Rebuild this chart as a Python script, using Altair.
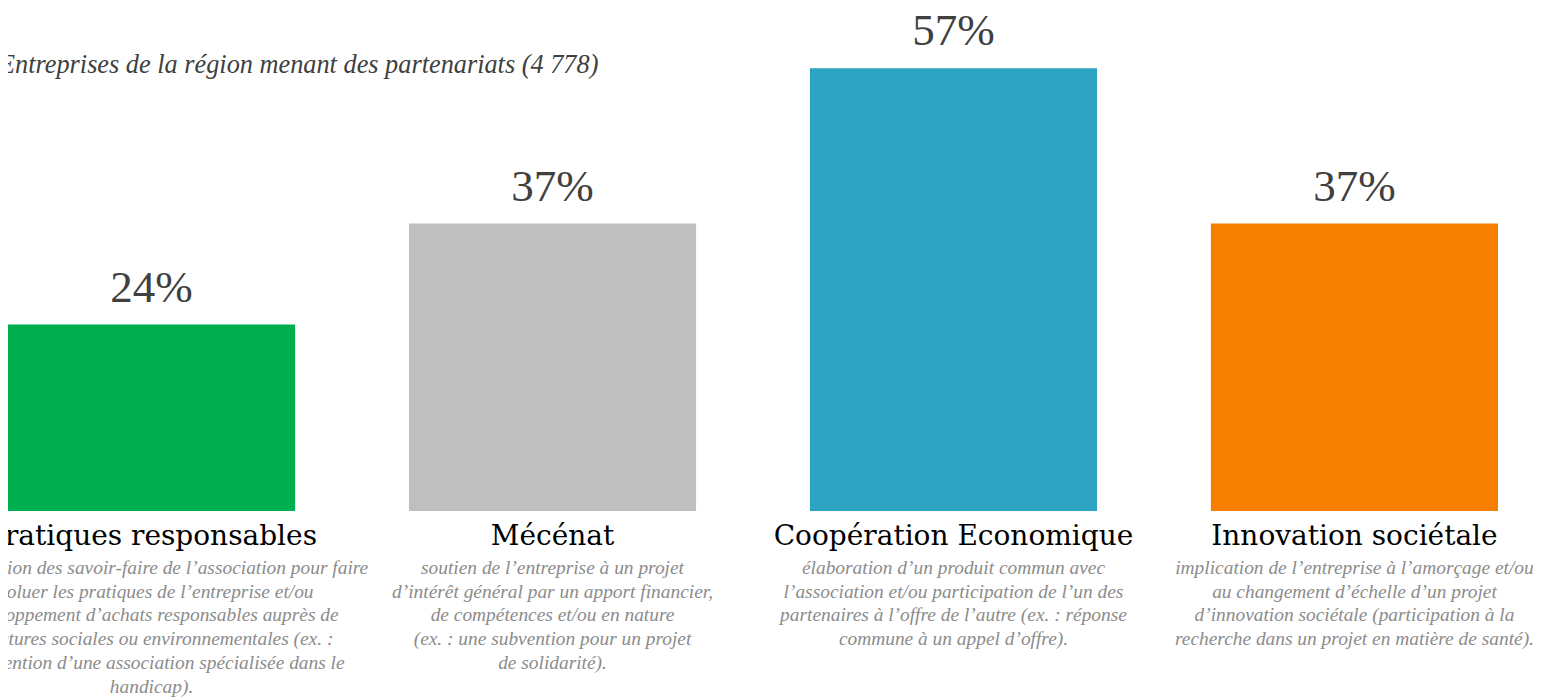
import altair as alt
import pandas as pd

categories = ["Pratiques responsables", "Mécénat", "Coopération Economique", "Innovation sociétale"]
values = [24, 37, 57, 37]
value_labels = ["24%", "37%", "57%", "37%"]
colors = ["#00B050", "#BFBFBF", "#2CA3C1", "#F77F00"]
descriptions = [
    "mobilisation des savoir-faire de l’association pour faire\n"
    "évoluer les pratiques de l’entreprise et/ou\n"
    "développement d’achats responsables auprès de\n"
    "structures sociales ou environnementales (ex. :\n"
    "intervention d’une association spécialisée dans le\n"
    "handicap).",
    "soutien de l’entreprise à un projet\n"
    "d’intérêt général par un apport financier,\n"
    "de compétences et/ou en nature\n"
    "(ex. : une subvention pour un projet\n"
    "de solidarité).",
    "élaboration d’un produit commun avec\n"
    "l’association et/ou participation de l’un des\n"
    "partenaires à l’offre de l’autre (ex. : réponse\n"
    "commune à un appel d’offre).",
    "implication de l’entreprise à l’amorçage et/ou\n"
    "au changement d’échelle d’un projet\n"
    "d’innovation sociétale (participation à la\n"
    "recherche dans un projet en matière de santé).",
]
title_text = "Entreprises de la région menant des partenariats (4 778)"

SERIF = "Liberation Serif"
WIDE_SERIF = "DejaVu Serif"

df = pd.DataFrame({
    "cat": categories,
    "val": values,
    "lab": value_labels,
    "desc": descriptions,
})

x = alt.X("cat:N", sort=categories, axis=None,
          scale=alt.Scale(domain=categories, paddingInner=0.284, paddingOuter=0))
y = alt.Y("val:Q", axis=None, scale=alt.Scale(domain=[0, 64.1]))
color = alt.Color("cat:N", scale=alt.Scale(domain=categories, range=colors), legend=None)

base = alt.Chart(df)

bars = base.mark_bar().encode(x=x, y=y, color=color)

pct = base.mark_text(font=SERIF, fontSize=45, color="#404040", baseline="alphabetic",
                     align="center", dy=-23).encode(x=x, y=y, text="lab:N")

cat_lab = base.mark_text(font=WIDE_SERIF, fontSize=28, color="#000000", baseline="alphabetic",
                         align="center").encode(x=x, y=alt.value(532), text="cat:N")

desc = base.mark_text(font=SERIF, fontSize=19.4, fontStyle="italic", color="#8C8C8C",
                      baseline="alphabetic", align="center", lineBreak="\n",
                      lineHeight=23.7).encode(x=x, y=alt.value(561), text="desc:N")

title = alt.Chart(pd.DataFrame({"t": [title_text]})).mark_text(
    font=SERIF, fontSize=26.3, fontStyle="italic", color="#404040",
    align="left", baseline="alphabetic").encode(
    x=alt.value(-9), y=alt.value(60), text="t:N")

chart = alt.layer(bars, pct, cat_lab, desc, title).properties(
    width=1490, height=498,
    autosize=alt.AutoSizeParams(type="none"),
    padding={"left": 0, "top": 5, "right": 35, "bottom": 186},
).configure_view(stroke=None)

chart.save("out.html", embed_options={"renderer": "svg", "actions": False})
